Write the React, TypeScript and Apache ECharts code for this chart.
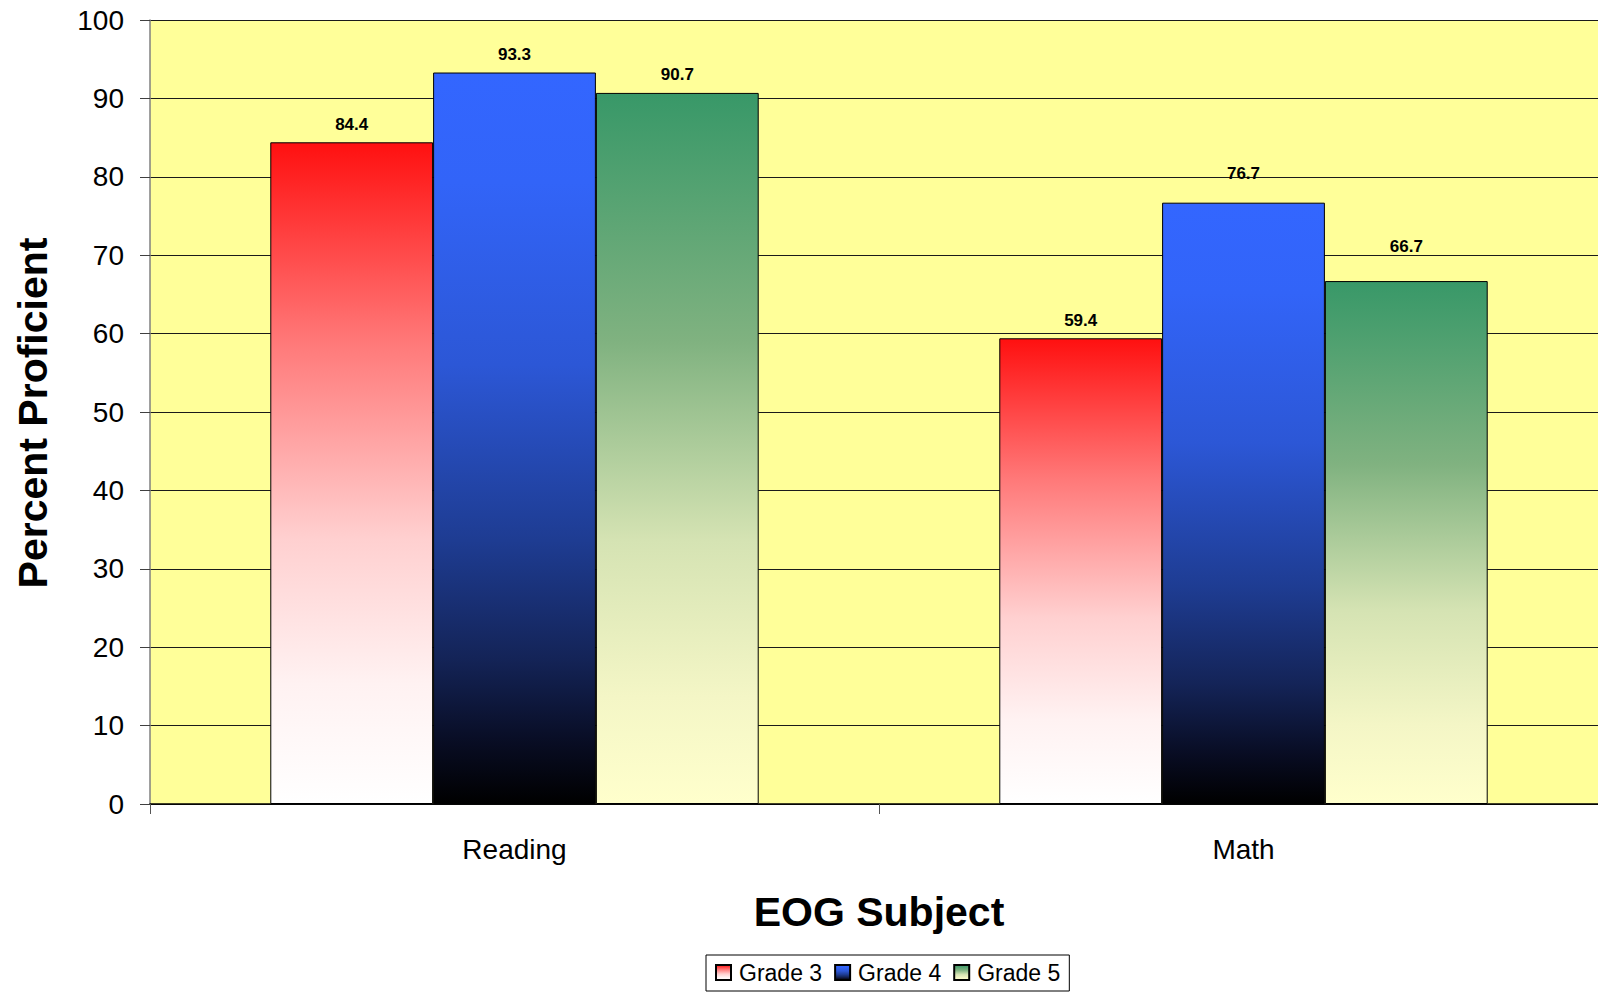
import React, { useEffect, useRef } from "react";
import * as echarts from "echarts";

const categories = ["Reading", "Math"];
const seriesNames = ["Grade 3", "Grade 4", "Grade 5"];
const grade3 = [84.4, 59.4];
const grade4 = [93.3, 76.7];
const grade5 = [90.7, 66.7];
const yTicks = { min: 0, max: 100, interval: 10 };
const xTitle = "EOG Subject";
const yTitle = "Percent Proficient";

const FONT = "'Liberation Sans', Arial, Helvetica, sans-serif";

// label distances above bar tops (style only)
const labelLift = [
  [9, 9],
  [10, 21],
  [10, 26],
];

const grad = (stops: [number, string][]) =>
  new echarts.graphic.LinearGradient(
    0, 0, 0, 1,
    stops.map(([offset, color]) => ({ offset, color }))
  );

const fills = [
  grad([
    [0, "#ff1010"],
    [0.3, "#ff7878"],
    [0.6, "#ffd0d0"],
    [0.82, "#fff2f2"],
    [1, "#ffffff"],
  ]),
  grad([
    [0, "#3366ff"],
    [0.15, "#3264f8"],
    [0.4, "#2c57d6"],
    [0.64, "#1e3c92"],
    [0.8, "#142458"],
    [0.92, "#080c22"],
    [1, "#000000"],
  ]),
  grad([
    [0, "#389868"],
    [0.35, "#80b280"],
    [0.63, "#d5e3b3"],
    [0.85, "#f4f6c6"],
    [1, "#ffffcc"],
  ]),
];

export default function App() {
  const ref = useRef<HTMLDivElement>(null);
  useEffect(() => {
    if (!ref.current) return;
    const chart = echarts.init(ref.current, null, { renderer: "svg" });
    const values = [grade3, grade4, grade5];
    chart.setOption({
      animation: false,
      backgroundColor: "#ffffff",
      textStyle: { fontFamily: FONT },
      grid: {
        left: 150,
        top: 20,
        width: 1458,
        height: 784,
        outerBoundsMode: "none",
        containLabel: false,
        show: true,
        backgroundColor: "#ffff99",
        borderWidth: 0,
      },
      legend: {
        left: 706,
        top: 955,
        padding: [6, 9, 7, 9],
        itemGap: 12,
        itemWidth: 15,
        itemHeight: 15,
        borderColor: "#000",
        borderWidth: 1,
        icon: "rect",
        data: seriesNames,
        textStyle: {
          fontFamily: FONT,
          fontSize: 23,
          color: "#000",
          padding: [0, 0, 0, 3],
        },
      },
      xAxis: {
        type: "category",
        data: categories,
        axisLine: { show: true, lineStyle: { color: "#000", width: 1.5 } },
        axisTick: { show: true, length: 10, lineStyle: { color: "#555" } },
        axisLabel: {
          fontSize: 28,
          color: "#000",
          fontFamily: FONT,
          margin: 31,
        },
        splitLine: { show: false },
      },
      yAxis: {
        type: "value",
        min: yTicks.min,
        max: yTicks.max,
        interval: yTicks.interval,
        axisLine: { show: true, lineStyle: { color: "#808080", width: 1.5 } },
        axisTick: { show: true, length: 10, lineStyle: { color: "#404040" } },
        axisLabel: {
          fontSize: 28,
          color: "#000",
          fontFamily: FONT,
          margin: 26,
        },
        splitLine: { show: true, lineStyle: { color: "#1a1a1a", width: 1 } },
      },
      graphic: [
        {
          type: "text",
          x: 879,
          y: 912,
          style: {
            text: xTitle,
            font: `bold 41px ${FONT}`,
            fill: "#000",
            textAlign: "center",
            textVerticalAlign: "middle",
          },
        },
        {
          type: "text",
          x: 33,
          y: 413,
          rotation: Math.PI / 2,
          style: {
            text: yTitle,
            font: `bold 41px ${FONT}`,
            fill: "#000",
            textAlign: "center",
            textVerticalAlign: "middle",
          },
        },
      ],
      series: seriesNames.map((name, si) => ({
        name,
        type: "bar",
        barGap: "0%",
        barCategoryGap: "33%",
        itemStyle: { color: fills[si], borderColor: "#000", borderWidth: 1 },
        data: values[si].map((v, ci) => ({
          value: v,
          label: { distance: labelLift[si][ci] },
        })),
        label: {
          show: true,
          position: "top",
          fontFamily: FONT,
          fontSize: 17,
          fontWeight: "bold",
          color: "#000",
        },
      })),
    });
    return () => chart.dispose();
  }, []);
  return (
    <div
      ref={ref}
      style={{ position: "fixed", left: 0, top: 0, width: 1598, height: 993 }}
    />
  );
}
